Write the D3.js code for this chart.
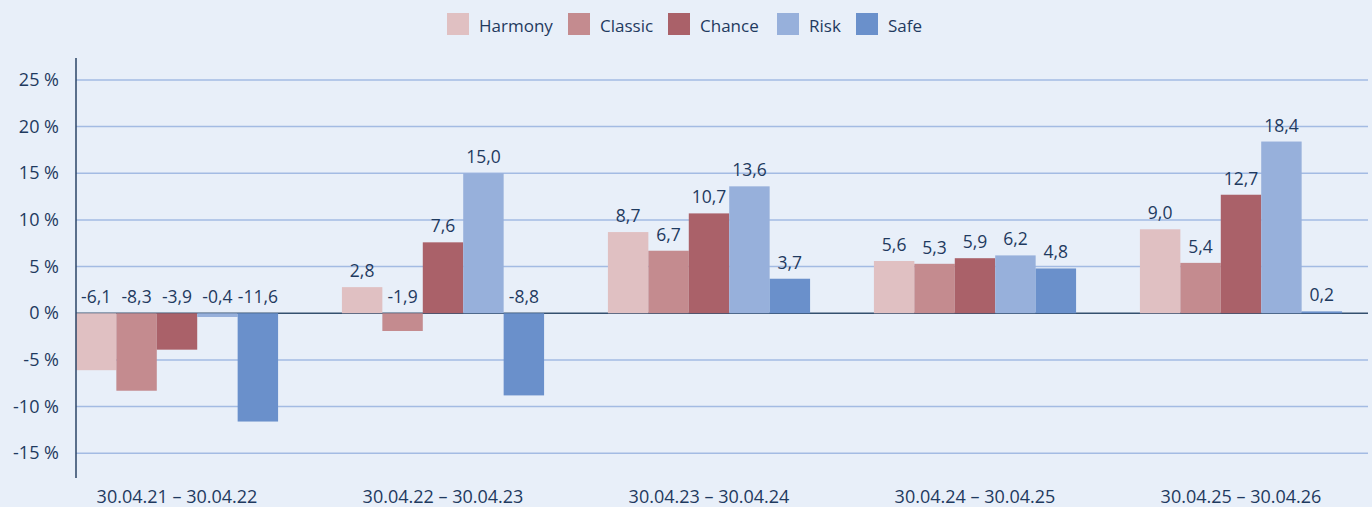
<!DOCTYPE html>
<html>
<head>
<meta charset="utf-8">
<script src="https://cdn.jsdelivr.net/npm/d3@7"></script>
<style>
  body { margin: 0; background: #e8eff9; }
  svg { display: block; font-family: "Open Sans", sans-serif; }
</style>
</head>
<body>
<div id="chart"></div>
<script>
// data
const categories = ["30.04.21 – 30.04.22", "30.04.22 – 30.04.23", "30.04.23 – 30.04.24", "30.04.24 – 30.04.25", "30.04.25 – 30.04.26"];
const seriesNames = ["Harmony", "Classic", "Chance", "Risk", "Safe"];
const harmony = [-6.1, 2.8, 8.7, 5.6, 9.0];
const classic = [-8.3, -1.9, 6.7, 5.3, 5.4];
const chance = [-3.9, 7.6, 10.7, 5.9, 12.7];
const risk = [-0.4, 15.0, 13.6, 6.2, 18.4];
const safe = [-11.6, -8.8, 3.7, 4.8, 0.2];
const yTicks = [-15, -10, -5, 0, 5, 10, 15, 20, 25];

const seriesValues = [harmony, classic, chance, risk, safe];
const colors = ["#e0c0c2", "#c48b8f", "#aa6169", "#97b0db", "#6a90cb"];
const textColor = "#1f3a5f";

const width = 1372, height = 507;
const plotLeft = 76, plotRight = 1368;

const svg = d3.select("#chart")
    .append("svg")
    .attr("width", width)
    .attr("height", height);

svg.append("rect").attr("width", width).attr("height", height).attr("fill", "#e8eff9");

// scales
const y = d3.scaleLinear().domain([-17.65, 27.35]).range([478, 58]);

const x0 = d3.scaleBand()
    .domain(categories)
    .range([44, 1374])
    .paddingInner(0.24)
    .paddingOuter(0.12);

const x1 = d3.scaleBand()
    .domain(seriesNames)
    .range([0, x0.bandwidth()]);

const color = d3.scaleOrdinal().domain(seriesNames).range(colors);

// gridlines
svg.append("g")
    .selectAll("line")
    .data(yTicks.filter(d => d !== 0))
    .enter()
    .append("line")
    .attr("x1", plotLeft)
    .attr("x2", plotRight)
    .attr("y1", d => y(d))
    .attr("y2", d => y(d))
    .attr("stroke", "#a3bbe3")
    .attr("stroke-width", 1.5);

// zero line
svg.append("line")
    .attr("x1", plotLeft)
    .attr("x2", plotRight)
    .attr("y1", y(0))
    .attr("y2", y(0))
    .attr("stroke", "#34506f")
    .attr("stroke-width", 1.5);

// bars
const groups = svg.append("g")
    .selectAll("g")
    .data(categories)
    .enter()
    .append("g")
    .attr("transform", d => "translate(" + x0(d) + ",0)");

const cells = groups.selectAll("rect")
    .data((c, i) => seriesNames.map((s, j) => ({ key: s, value: seriesValues[j][i] })))
    .enter();

cells.append("rect")
    .attr("x", d => x1(d.key))
    .attr("width", x1.bandwidth())
    .attr("y", d => Math.min(y(d.value), y(0)))
    .attr("height", d => Math.abs(y(d.value) - y(0)))
    .attr("fill", d => color(d.key));

// labels, comma decimal and plain hyphen like the original
const fmt = v => d3.format(".1f")(v).replace("−", "-").replace(".", ",");

cells.append("text")
    .attr("x", d => x1(d.key) + x1.bandwidth() / 2)
    .attr("y", d => Math.min(y(d.value), y(0)) - 10)
    .attr("text-anchor", "middle")
    .attr("fill", textColor)
    .style("font-size", "17.5px")
    .text(d => fmt(d.value));

// y axis
svg.append("line")
    .attr("x1", plotLeft)
    .attr("x2", plotLeft)
    .attr("y1", y.range()[1])
    .attr("y2", y.range()[0])
    .attr("stroke", "#2b4566")
    .attr("stroke-width", 1.5);

svg.append("g")
    .selectAll("text")
    .data(yTicks)
    .enter()
    .append("text")
    .attr("x", 59)
    .attr("y", d => y(d) + 6)
    .attr("text-anchor", "end")
    .attr("fill", textColor)
    .style("font-size", "18px")
    .text(d => d + " %");

// x labels
svg.append("g")
    .selectAll("text")
    .data(categories)
    .enter()
    .append("text")
    .attr("x", d => x0(d) + x0.bandwidth() / 2)
    .attr("y", 503)
    .attr("text-anchor", "middle")
    .attr("fill", textColor)
    .style("font-size", "18px")
    .text(d => d);

// legend
const legendX = [447, 568, 668, 777, 856];
const legend = svg.append("g")
    .selectAll("g")
    .data(seriesNames)
    .enter()
    .append("g")
    .attr("transform", (d, i) => "translate(" + legendX[i] + ",13)");

legend.append("rect")
    .attr("width", 22)
    .attr("height", 22)
    .attr("fill", d => color(d));

legend.append("text")
    .attr("x", 32)
    .attr("y", 19)
    .attr("fill", textColor)
    .style("font-size", "17px")
    .text(d => d);
</script>
</body>
</html>
